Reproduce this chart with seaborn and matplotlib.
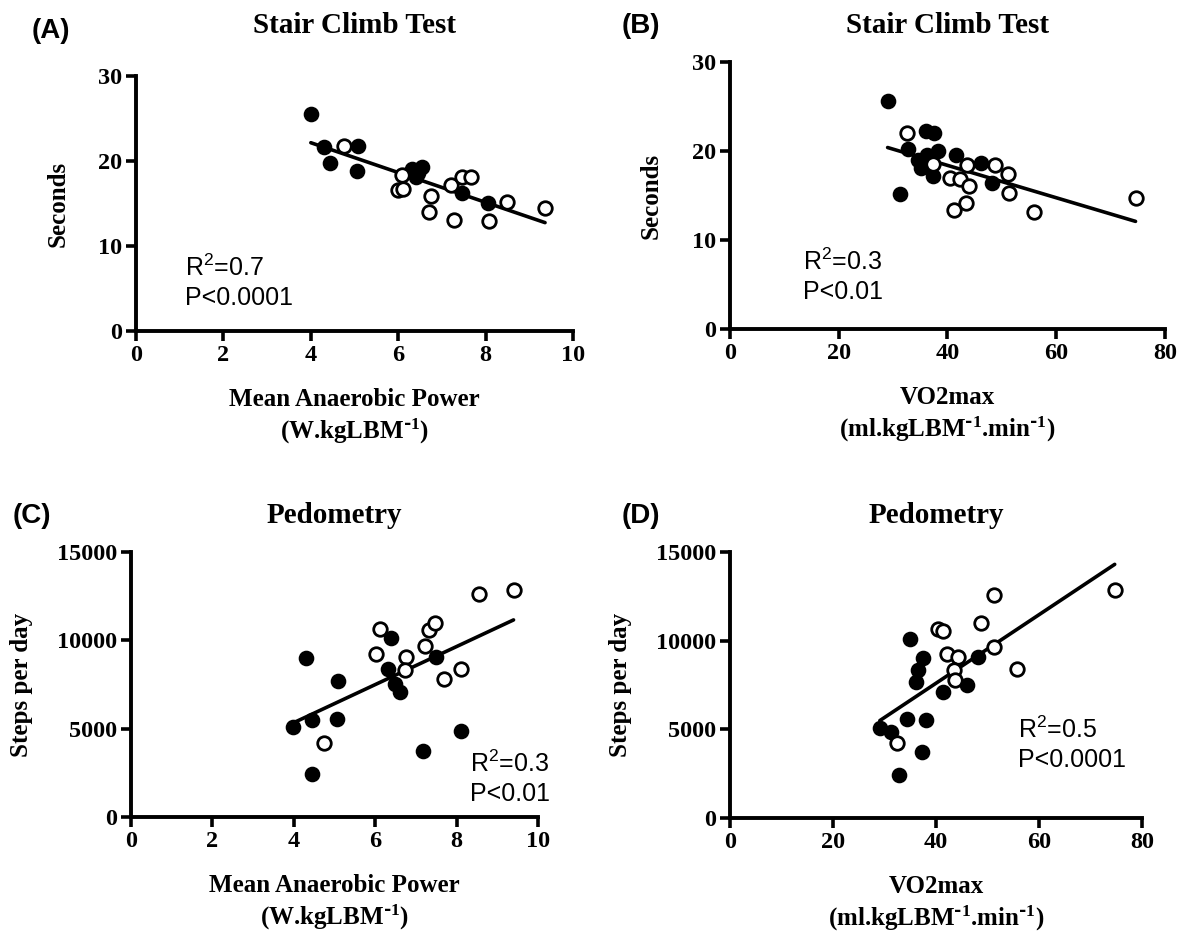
import matplotlib
matplotlib.use("Agg")
import matplotlib.pyplot as plt
import seaborn as sns
import pandas as pd

# Panel A: stair climb vs mean anaerobic power
a_fill_x = [4.0, 4.3, 5.08, 4.45, 5.05, 6.32, 6.55, 6.4, 6.45, 7.47, 8.06]
a_fill_y = [25.5, 21.7, 21.8, 19.8, 18.8, 19.1, 19.3, 18.1, 18.6, 16.2, 15.1]
a_open_x = [4.76, 6.09, 6.0, 6.1, 6.74, 6.7, 7.2, 7.45, 7.67, 7.27, 8.5, 8.08, 9.36]
a_open_y = [21.8, 18.3, 16.6, 16.7, 15.9, 14.0, 17.2, 18.1, 18.1, 13.1, 15.2, 12.9, 14.5]

# Panel B: stair climb vs VO2max
b_fill_x = [29.0, 36.0, 37.5, 32.8, 34.5, 35.1, 36.2, 38.2, 37.4, 41.5, 46.2, 48.2, 31.3]
b_fill_y = [25.6, 22.2, 22.0, 20.2, 19.0, 18.1, 19.5, 20.0, 17.2, 19.5, 18.6, 16.4, 15.2]
b_open_x = [32.5, 37.4, 40.5, 42.3, 44.0, 43.6, 48.7, 51.1, 51.4, 43.4, 41.2, 55.9, 74.6]
b_open_y = [22.0, 18.5, 17.0, 16.9, 16.1, 18.4, 18.4, 17.4, 15.3, 14.1, 13.4, 13.1, 14.7]

# Panel C: pedometry vs mean anaerobic power
c_fill_x = [3.97, 4.3, 4.46, 4.45, 5.08, 5.06, 6.4, 6.32, 6.49, 6.6, 7.5, 7.17, 8.1]
c_fill_y = [5100, 9020, 5470, 2420, 7680, 5570, 10130, 8400, 7550, 7080, 9060, 3740, 4870]
c_open_x = [6.13, 6.03, 6.76, 6.74, 7.23, 7.33, 7.48, 7.69, 8.12, 8.54, 9.4, 4.75]
c_open_y = [10660, 9250, 9060, 8340, 9660, 10570, 10980, 7790, 8400, 12600, 12830, 4210]

# Panel D: pedometry vs VO2max
d_fill_x = [29.1, 31.3, 32.8, 34.4, 34.9, 37.5, 36.5, 36.2, 38.0, 37.3, 41.4, 46.1, 48.2]
d_fill_y = [5090, 4870, 2400, 5570, 10090, 9000, 8360, 7640, 5510, 3740, 7080, 7490, 9060]
d_open_x = [32.5, 40.4, 41.4, 42.2, 44.3, 43.5, 43.7, 48.7, 51.3, 51.2, 55.8, 74.7]
d_open_y = [4210, 10660, 10570, 9250, 9060, 8360, 7790, 10980, 12600, 9620, 8400, 12830]

stats = ["R$\\mathregular{^2}$=0.7\nP<0.0001", "R$\\mathregular{^2}$=0.3\nP<0.01",
         "R$\\mathregular{^2}$=0.3\nP<0.01", "R$\\mathregular{^2}$=0.5\nP<0.0001"]
titles = ["Stair Climb Test", "Stair Climb Test", "Pedometry", "Pedometry"]
ylabels = ["Seconds", "Seconds", "Steps per day", "Steps per day"]
xlab_map = "Mean Anaerobic Power\n(W.kgLBM$\\mathregular{^{\\text{-}1}}$)"
xlab_vo2 = ("VO2max\n(ml.kgLBM$\\mathregular{^{\\text{-}1}}$"
            ".min$\\mathregular{^{\\text{-}1}}$)")
letters = ["(A)", "(B)", "(C)", "(D)"]

sns.set_style("ticks")
plt.rcParams['font.family'] = ['Liberation Serif', 'DejaVu Serif']
plt.rcParams['font.weight'] = 'bold'
plt.rcParams['axes.unicode_minus'] = False
for key in ['text.color', 'axes.labelcolor', 'xtick.color', 'ytick.color',
            'axes.edgecolor']:
    plt.rcParams[key] = 'black'

SERIF = ['Liberation Serif', 'DejaVu Serif']
SANS = ['Liberation Sans', 'DejaVu Sans']

fig = plt.figure(figsize=(11.8, 9.33), dpi=100)
boxes = [[0.1153, 0.6452, 0.3703, 0.2733],
         [0.6186, 0.6474, 0.3686, 0.2862],
         [0.1110, 0.1243, 0.3449, 0.2840],
         [0.6186, 0.1233, 0.3492, 0.2851]]


def panel(ax, fx, fy, ox, oy, xlim, xticks, ylim, yticks, xlabel, idx,
          stat_pos, title_pad, ylab_x):
    full = pd.DataFrame({'x': fx + ox, 'y': fy + oy})
    sns.regplot(data=full, x='x', y='y', ax=ax, scatter=False, ci=None,
                color='black', line_kws={'linewidth': 2.6})
    sns.scatterplot(x=fx, y=fy, ax=ax, color='black', edgecolor='black',
                    s=95, linewidth=1.5, zorder=3)
    sns.scatterplot(x=ox, y=oy, ax=ax, color='white', edgecolor='black',
                    s=95, linewidth=2.0, zorder=4)
    ax.set_xlim(xlim)
    ax.set_ylim(ylim)
    ax.set_xticks(xticks)
    ax.set_yticks(yticks)
    for s in ['top', 'right']:
        ax.spines[s].set_visible(False)
    for s in ['left', 'bottom']:
        ax.spines[s].set_linewidth(2.8)
        ax.spines[s].set_color('black')
    ax.tick_params(direction='out', length=7, width=2.6, pad=3, labelsize=17.5,
                   colors='black')
    for lab in ax.get_xticklabels() + ax.get_yticklabels():
        lab.set_fontweight('bold')
        lab.set_family(SERIF)
    ax.set_xlabel(xlabel, fontsize=18, fontweight='bold', family=SERIF,
                  labelpad=16, linespacing=1.25, color='black')
    ax.set_ylabel(ylabels[idx], fontsize=18, fontweight='bold', family=SERIF,
                  color='black')
    ax.yaxis.set_label_coords(ylab_x, 0.5)
    ax.set_title(titles[idx], fontsize=21, fontweight='bold', family=SERIF,
                 pad=title_pad, color='black')
    ax.text(stat_pos[0], stat_pos[1], stats[idx], transform=ax.transAxes,
            ha='left', va='top', fontsize=18, fontweight='normal',
            family=SANS, linespacing=1.25, color='black')


axA = fig.add_axes(boxes[0])
panel(axA, a_fill_x, a_fill_y, a_open_x, a_open_y, (0, 10), [0, 2, 4, 6, 8, 10],
      (0, 30), [0, 10, 20, 30], xlab_map, 0, (0.112, 0.30), 31, -0.151)
axB = fig.add_axes(boxes[1])
panel(axB, b_fill_x, b_fill_y, b_open_x, b_open_y, (0, 80), [0, 20, 40, 60, 80],
      (0, 30), [0, 10, 20, 30], xlab_vo2, 1, (0.168, 0.30), 21, -0.154)
axC = fig.add_axes(boxes[2])
panel(axC, c_fill_x, c_fill_y, c_open_x, c_open_y, (0, 10), [0, 2, 4, 6, 8, 10],
      (0, 15000), [0, 5000, 10000, 15000], xlab_map, 2, (0.833, 0.25), 21, -0.241)
axD = fig.add_axes(boxes[3])
panel(axD, d_fill_x, d_fill_y, d_open_x, d_open_y, (0, 80), [0, 20, 40, 60, 80],
      (0, 15000), [0, 5000, 10000, 15000], xlab_vo2, 3, (0.699, 0.38), 21, -0.238)

letter_pos = [(0.027, 0.967), (0.527, 0.972), (0.011, 0.447), (0.527, 0.447)]
for (lx, ly), txt in zip(letter_pos, letters):
    fig.text(lx, ly, txt, ha='left', va='center', fontsize=20,
             fontweight='bold', family=SANS, color='black')

fig.savefig('out.png', dpi=100)
